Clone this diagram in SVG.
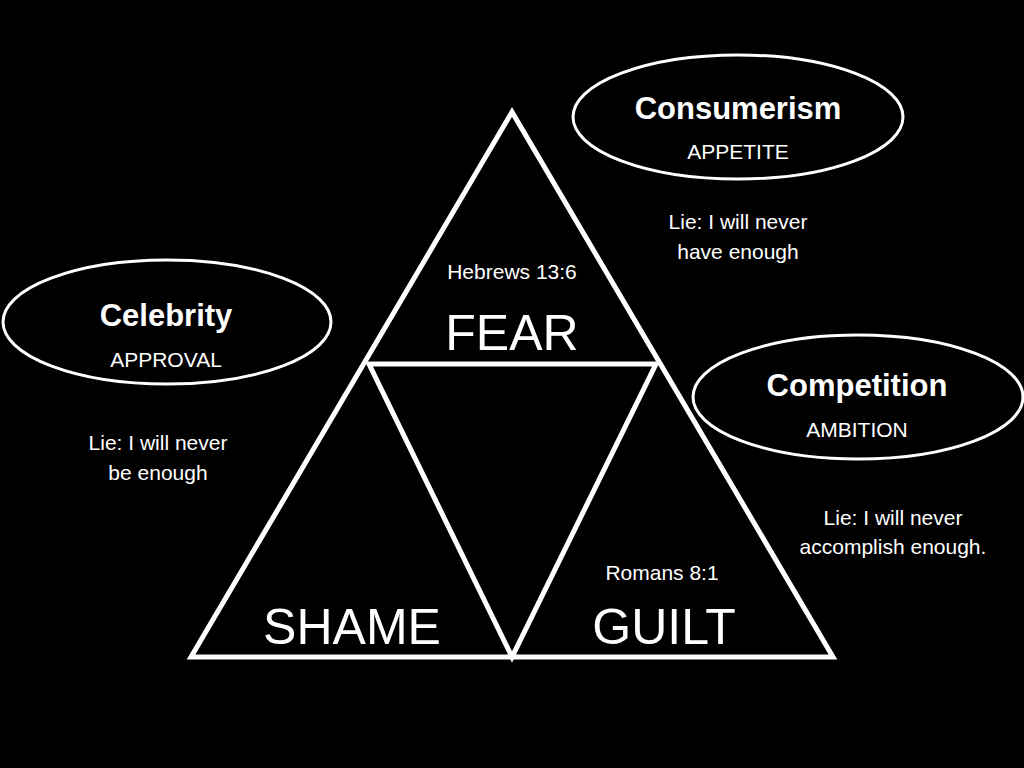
<svg xmlns="http://www.w3.org/2000/svg" width="1024" height="768" viewBox="0 0 1024 768">
<style>
.l{fill:none;stroke:#fff;stroke-width:5;stroke-linejoin:miter}
.e{fill:#000;stroke:#fff;stroke-width:3}
text{fill:#fff;font-family:"Liberation Sans",Arial,sans-serif;text-anchor:middle}
.b{font-weight:bold;font-size:31px}
.s{font-size:21px}
.big{font-size:50px}
</style>
<rect width="1024" height="768" fill="#000"/>
<g id="connectors">
<polygon class="l" points="512,112 191,657 833,657"/>
<polygon class="l" points="369,364 656,364 512,657"/>
</g>
<g id="fear"><text x="512" y="279" class="s">Hebrews 13:6</text><text x="512" y="350" class="big">FEAR</text></g>
<g id="shame"><text x="352" y="644" class="big">SHAME</text></g>
<g id="guilt"><text x="662" y="580" class="s">Romans 8:1</text><text x="664" y="644" class="big">GUILT</text></g>
<g id="consumerism"><ellipse class="e" cx="738" cy="117" rx="165" ry="62"/><text x="738" y="119" class="b">Consumerism</text><text x="738" y="159" class="s">APPETITE</text><text x="738" y="229" class="s">Lie: I will never</text><text x="738" y="259" class="s">have enough</text></g>
<g id="celebrity"><ellipse class="e" cx="167" cy="322" rx="164" ry="62"/><text x="166" y="326" class="b">Celebrity</text><text x="166" y="367" class="s">APPROVAL</text><text x="158" y="450" class="s">Lie: I will never</text><text x="158" y="480" class="s">be enough</text></g>
<g id="competition"><ellipse class="e" cx="858" cy="397" rx="165" ry="62"/><text x="857" y="396" class="b">Competition</text><text x="857" y="437" class="s">AMBITION</text><text x="893" y="525" class="s">Lie: I will never</text><text x="893" y="554" class="s">accomplish enough.</text></g>
</svg>
